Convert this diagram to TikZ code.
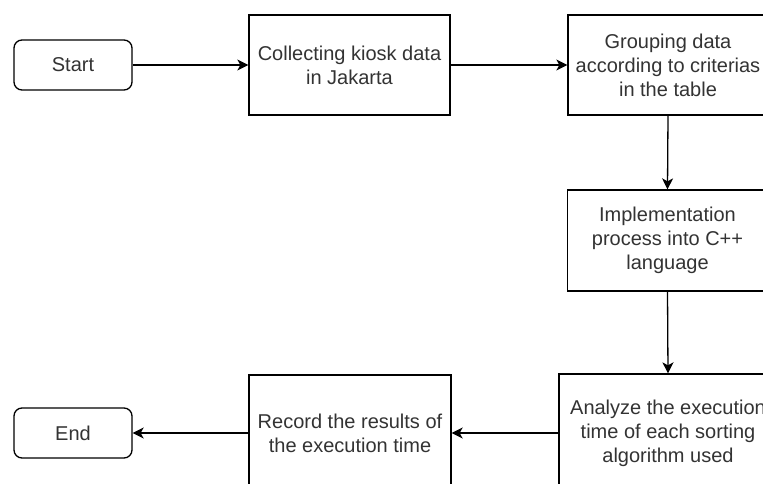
\documentclass[tikz,border=0pt]{standalone}
\usepackage{fontspec}
\setmainfont{Liberation Sans}
\usetikzlibrary{arrows.meta}
\definecolor{txt}{HTML}{333333}
\tikzset{
  box/.style={draw=black, line width=1.3pt, fill=white, align=center, inner sep=0pt,
    font=\fontsize{20}{24}\selectfont, text=txt},
  term/.style={box, rounded corners=8pt, minimum width=118pt, minimum height=50pt},
  proc/.style={box, minimum width=201pt, minimum height=100pt},
  conn/.style={draw=black, line width=1.3pt, -{Stealth[length=11pt,width=11pt,inset=3pt]}}
}
\begin{document}
\begin{tikzpicture}[x=1pt,y=-1pt]
\useasboundingbox (0,0) rectangle (763,484);
\clip (0,0) rectangle (763,484);
\node[term] (start) at (73,65) {Start};
\node[proc] (collect) at (349.5,65) {Collecting kiosk data\\in Jakarta};
\node[proc, minimum width=200pt] (group) at (668,65) {Grouping data\\according to criterias\\in the table};
\node[proc, minimum width=200pt, minimum height=101pt] (impl) at (667.5,240.5) {Implementation\\process into C++\\language};
\node[proc, minimum width=218pt, minimum height=118pt] (analyze) at (668,433) {Analyze the execution\\time of each sorting\\algorithm used};
\node[proc, minimum width=202pt, minimum height=116pt] (record) at (350,433) {Record the results of\\the execution time};
\node[term] (end) at (73,433) {End};
\draw[conn] (start) -- (collect);
\draw[conn] (collect) -- (group);
\draw[conn] (group.south) -- (impl.north);
\draw[conn] (impl.south) -- (analyze.north);
\draw[conn] (analyze) -- (record);
\draw[conn] (record) -- (end);
\end{tikzpicture}
\end{document}
